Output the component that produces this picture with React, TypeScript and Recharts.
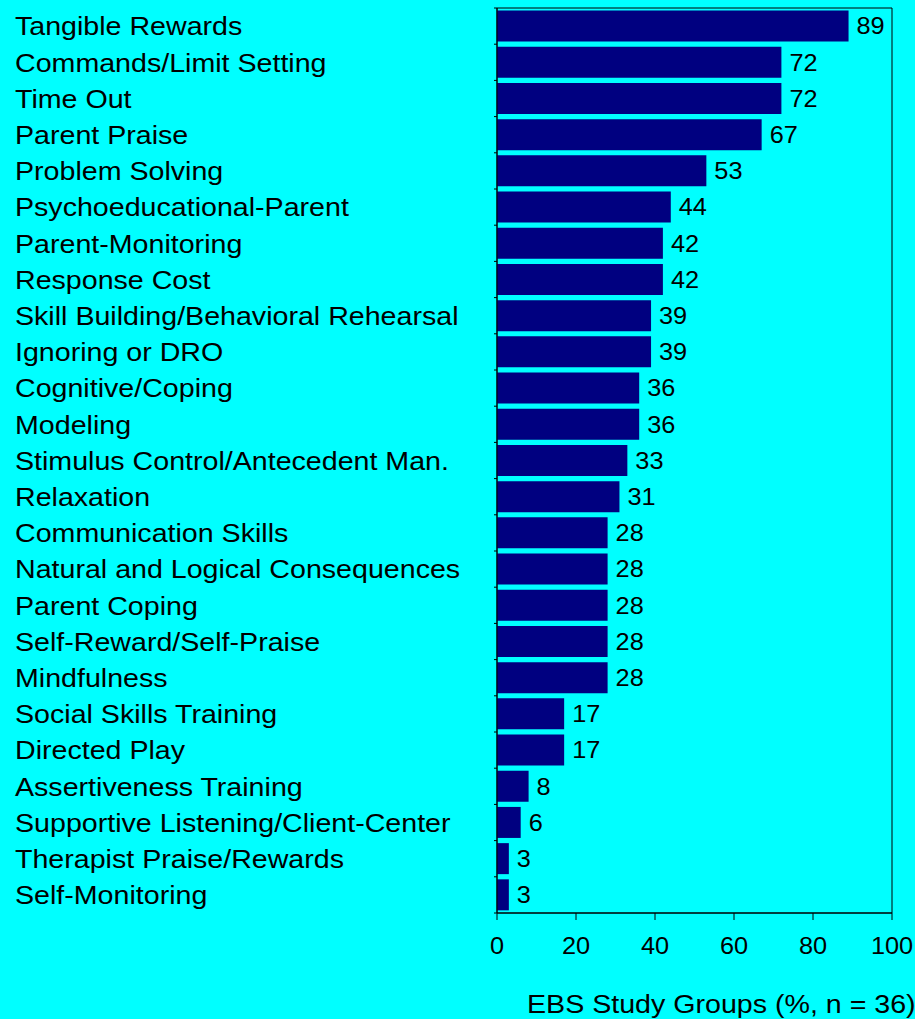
import React from 'react';
import { BarChart, Bar, XAxis, YAxis, LabelList, ReferenceArea } from 'recharts';

const categories = [
  'Tangible Rewards',
  'Commands/Limit Setting',
  'Time Out',
  'Parent Praise',
  'Problem Solving',
  'Psychoeducational-Parent',
  'Parent-Monitoring',
  'Response Cost',
  'Skill Building/Behavioral Rehearsal',
  'Ignoring or DRO',
  'Cognitive/Coping',
  'Modeling',
  'Stimulus Control/Antecedent Man.',
  'Relaxation',
  'Communication Skills',
  'Natural and Logical Consequences',
  'Parent Coping',
  'Self-Reward/Self-Praise',
  'Mindfulness',
  'Social Skills Training',
  'Directed Play',
  'Assertiveness Training',
  'Supportive Listening/Client-Center',
  'Therapist Praise/Rewards',
  'Self-Monitoring',
];

const percents = [89, 72, 72, 67, 53, 44, 42, 42, 39, 39, 36, 36, 33, 31, 28, 28, 28, 28, 28, 17, 17, 8, 6, 3, 3];

const xTicks = [0, 20, 40, 60, 80, 100];

const data = categories.map((name, i) => ({ name, value: percents[i] }));

const FONT = 'Arial, "Liberation Sans", Helvetica, sans-serif';
const STRETCH = 1.1;

const CategoryTick = (props: any) => {
  const { x, y, payload, index } = props;
  const half = payload && payload.offset ? payload.offset : 18.1;
  return (
    <g>
      <line x1={x - 3} x2={x} y1={y - half} y2={y - half} stroke="#000" />
      {index === categories.length - 1 && (
        <line x1={x - 3} x2={x} y1={y + half} y2={y + half} stroke="#000" />
      )}
      <text
        transform={`translate(15 ${y}) scale(${STRETCH} 1)`}
        x={0}
        y={0}
        dy="0.36em"
        fontSize={26}
        fontFamily={FONT}
        fill="#000"
        textAnchor="start"
      >
        {payload.value}
      </text>
    </g>
  );
};

const ValueTick = (props: any) => {
  const { x, y, payload } = props;
  return (
    <text
      transform={`translate(${x} ${y}) scale(${STRETCH} 1)`}
      dy="0.71em"
      fontSize={23}
      fontFamily={FONT}
      fill="#000"
      textAnchor="middle"
    >
      {payload.value}
    </text>
  );
};

const BarValue = (props: any) => {
  const { x, y, width, height, value } = props;
  return (
    <text
      transform={`translate(${x + width + 8} ${y + height / 2}) scale(${STRETCH} 1)`}
      dy="0.36em"
      fontSize={23}
      fontFamily={FONT}
      fill="#000"
      textAnchor="start"
    >
      {value}
    </text>
  );
};

const AxisTitle = (props: any) => {
  const { viewBox } = props;
  return (
    <text
      transform={`translate(${viewBox.x + 30} ${viewBox.y + 100}) scale(${STRETCH} 1)`}
      fontSize={26}
      fontFamily={FONT}
      fill="#000"
      textAnchor="start"
    >
      EBS Study Groups (%, n = 36)
    </text>
  );
};

export default function App() {
  return (
    <div style={{ position: 'absolute', left: 0, top: 0, width: 915, height: 1019, background: '#00FFFF', overflow: 'hidden' }}>
      <BarChart
        width={915}
        height={1019}
        data={data}
        layout="vertical"
        margin={{ top: 8, right: 23, left: 0, bottom: 0 }}
        barCategoryGap="7%"
      >
        <XAxis
          type="number"
          domain={[0, 100]}
          ticks={xTicks}
          height={106}
          axisLine={{ stroke: '#000' }}
          tickLine={{ stroke: '#000' }}
          tickSize={7}
          tickMargin={18}
          tick={<ValueTick />}
          interval={0}
          label={<AxisTitle />}
        />
        <YAxis
          type="category"
          dataKey="name"
          width={497}
          axisLine={{ stroke: '#000' }}
          tickLine={false}
          tickSize={0}
          tickMargin={0}
          interval={0}
          tick={<CategoryTick />}
        />
        <ReferenceArea x1={0} x2={100} fill="none" fillOpacity={0} stroke="#000" strokeWidth={1} ifOverflow="visible" />
        <Bar dataKey="value" fill="#000080" isAnimationActive={false}>
          <LabelList dataKey="value" content={<BarValue />} />
        </Bar>
      </BarChart>
    </div>
  );
}
